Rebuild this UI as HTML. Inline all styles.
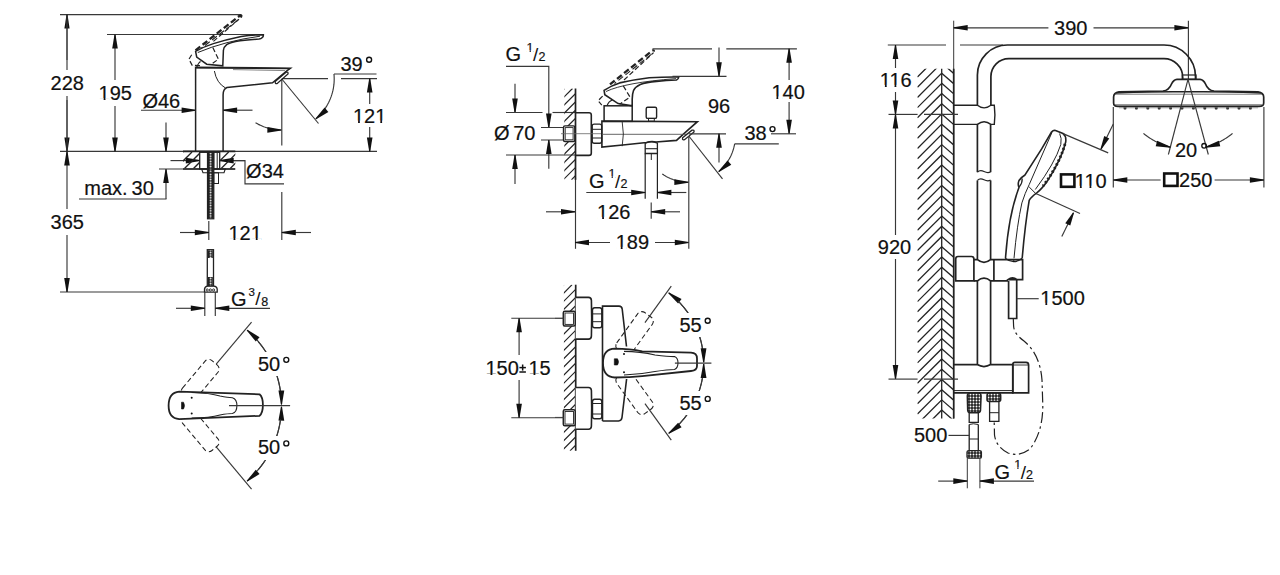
<!DOCTYPE html>
<html><head><meta charset="utf-8"><style>
html,body{margin:0;padding:0;background:#fff;width:1280px;height:575px;overflow:hidden}
svg{display:block}
text{font-family:"Liberation Sans",sans-serif;fill:#111;stroke:#111;stroke-width:0.2px}
</style></head><body>
<svg width="1280" height="575" viewBox="0 0 1280 575">
<rect width="1280" height="575" fill="#fff"/>
<line x1="60.00" y1="14.60" x2="241.00" y2="14.60" stroke="#383838" stroke-width="1.15" />
<line x1="107.00" y1="34.50" x2="262.00" y2="34.50" stroke="#383838" stroke-width="1.15" />
<line x1="60.00" y1="151.40" x2="377.00" y2="151.40" stroke="#383838" stroke-width="1.15" />
<line x1="60.00" y1="292.00" x2="204.00" y2="292.00" stroke="#383838" stroke-width="1.15" />
<line x1="67.00" y1="60.00" x2="67.00" y2="14.60" stroke="#383838" stroke-width="1.0" />
<polygon points="67.50,14.60 66.50,14.60 64.40,28.60 69.60,28.60" fill="#111"/>
<line x1="67.00" y1="100.00" x2="67.00" y2="151.40" stroke="#383838" stroke-width="1.0" />
<polygon points="66.50,151.40 67.50,151.40 69.60,137.40 64.40,137.40" fill="#111"/>
<line x1="67.00" y1="14.60" x2="67.00" y2="151.40" stroke="#383838" stroke-width="1.15" />
<rect x="50.00" y="70.00" width="35.00" height="26.00" fill="#fff"/>
<text x="67.30" y="90.00" font-size="20" text-anchor="middle" >228</text>
<line x1="115.00" y1="34.50" x2="115.00" y2="151.40" stroke="#383838" stroke-width="1.15" />
<polygon points="115.50,34.50 114.50,34.50 112.20,48.50 117.80,48.50" fill="#111"/>
<polygon points="114.50,151.40 115.50,151.40 117.80,137.40 112.20,137.40" fill="#111"/>
<rect x="98.00" y="80.00" width="35.00" height="26.00" fill="#fff"/>
<text x="115.30" y="100.00" font-size="20" text-anchor="middle" >195</text><rect x="99.01" y="98.10" width="4.64" height="3.10" fill="#fff"/><rect x="105.47" y="98.10" width="4.00" height="3.10" fill="#fff"/>
<line x1="67.00" y1="151.40" x2="67.00" y2="292.00" stroke="#383838" stroke-width="1.15" />
<polygon points="67.50,151.40 66.50,151.40 64.20,165.40 69.80,165.40" fill="#111"/>
<polygon points="66.50,292.00 67.50,292.00 69.80,278.00 64.20,278.00" fill="#111"/>
<rect x="50.00" y="209.00" width="35.00" height="26.00" fill="#fff"/>
<text x="67.30" y="228.80" font-size="20" text-anchor="middle" >365</text>
<line x1="141.00" y1="110.20" x2="195.60" y2="110.20" stroke="#383838" stroke-width="1.15" />
<polygon points="195.60,110.70 195.60,109.70 181.60,107.40 181.60,113.00" fill="#111"/>
<line x1="252.50" y1="110.20" x2="223.10" y2="110.20" stroke="#383838" stroke-width="1.15" />
<polygon points="223.10,109.70 223.10,110.70 237.10,113.00 237.10,107.40" fill="#111"/>
<text x="161.30" y="107.50" font-size="20" text-anchor="middle" >Ø46</text>
<line x1="166.00" y1="122.50" x2="166.00" y2="151.40" stroke="#383838" stroke-width="1.15" />
<polygon points="165.50,151.40 166.50,151.40 168.80,137.40 163.20,137.40" fill="#111"/>
<line x1="166.00" y1="199.00" x2="166.00" y2="169.00" stroke="#383838" stroke-width="1.15" />
<polygon points="166.50,169.00 165.50,169.00 163.20,183.00 168.80,183.00" fill="#111"/>
<line x1="159.00" y1="169.00" x2="235.00" y2="169.00" stroke="#383838" stroke-width="1.15" />
<line x1="79.00" y1="199.00" x2="166.50" y2="199.00" stroke="#383838" stroke-width="1.15" />
<text x="84.3" y="195.3" font-size="20">max.</text>
<text x="131.6" y="195.3" font-size="20">30</text>
<line x1="170.50" y1="160.60" x2="199.80" y2="160.60" stroke="#383838" stroke-width="1.15" />
<polygon points="199.80,161.10 199.80,160.10 185.80,157.80 185.80,163.40" fill="#111"/>
<line x1="245.00" y1="160.60" x2="219.70" y2="160.60" stroke="#383838" stroke-width="1.15" />
<polygon points="219.70,160.10 219.70,161.10 233.70,163.40 233.70,157.80" fill="#111"/>
<polyline points="234.00,160.60 245.00,160.60 245.00,183.80 284.00,183.80" fill="none" stroke="#383838" stroke-width="1.15" />
<text x="265.00" y="178.00" font-size="20" text-anchor="middle" >Ø34</text>
<line x1="208.80" y1="221.00" x2="208.80" y2="240.00" stroke="#383838" stroke-width="1.15" />
<line x1="180.00" y1="232.50" x2="208.80" y2="232.50" stroke="#383838" stroke-width="1.15" />
<polygon points="208.80,233.00 208.80,232.00 194.80,229.70 194.80,235.30" fill="#111"/>
<line x1="281.80" y1="79.00" x2="281.80" y2="145.60" stroke="#383838" stroke-width="1.15" />
<line x1="281.80" y1="192.00" x2="281.80" y2="240.00" stroke="#383838" stroke-width="1.15" />
<line x1="311.00" y1="232.50" x2="281.80" y2="232.50" stroke="#383838" stroke-width="1.15" />
<polygon points="281.80,232.00 281.80,233.00 295.80,235.30 295.80,229.70" fill="#111"/>
<text x="245.20" y="240.00" font-size="20" text-anchor="middle" >121</text><rect x="228.91" y="238.10" width="4.64" height="3.10" fill="#fff"/><rect x="235.37" y="238.10" width="4.00" height="3.10" fill="#fff"/><rect x="251.15" y="238.10" width="4.64" height="3.10" fill="#fff"/><rect x="257.61" y="238.10" width="4.00" height="3.10" fill="#fff"/>
<line x1="281.80" y1="78.60" x2="328.00" y2="78.60" stroke="#383838" stroke-width="1.15" />
<line x1="341.00" y1="78.60" x2="377.00" y2="78.60" stroke="#383838" stroke-width="1.15" />
<line x1="334.00" y1="74.00" x2="376.50" y2="74.00" stroke="#383838" stroke-width="1.15" />
<line x1="369.70" y1="78.60" x2="369.70" y2="151.40" stroke="#383838" stroke-width="1.15" />
<polygon points="370.20,78.60 369.20,78.60 366.90,92.60 372.50,92.60" fill="#111"/>
<polygon points="369.20,151.40 370.20,151.40 372.50,137.40 366.90,137.40" fill="#111"/>
<rect x="352.00" y="104.00" width="36.00" height="23.00" fill="#fff"/>
<text x="369.70" y="122.50" font-size="20" text-anchor="middle" >121</text><rect x="353.41" y="120.60" width="4.64" height="3.10" fill="#fff"/><rect x="359.87" y="120.60" width="4.00" height="3.10" fill="#fff"/><rect x="375.65" y="120.60" width="4.64" height="3.10" fill="#fff"/><rect x="382.11" y="120.60" width="4.00" height="3.10" fill="#fff"/>
<text x="351.50" y="70.60" font-size="20" text-anchor="middle" >39</text>
<circle cx="369.1" cy="59.7" r="2.5" fill="none" stroke="#111" stroke-width="1.35"/>
<line x1="281.80" y1="79.00" x2="318.50" y2="123.50" stroke="#383838" stroke-width="1.15" />
<polyline points="333.96,73.98 334.12,76.07 334.19,78.16 334.18,80.26 334.09,82.35 333.92,84.44 333.66,86.52 333.32,88.59 332.89,90.64 332.38,92.67 331.80,94.68 331.13,96.67 330.38,98.63 329.56,100.56 328.66,102.45 327.69,104.30 326.64,106.12 325.52,107.89 324.33,109.61 323.07,111.29 321.74,112.92 320.36,114.49 318.91,116.00 317.40,117.45 315.83,118.85" fill="none" stroke="#383838" stroke-width="1.15" />
<polygon points="315.51,118.47 316.16,119.23 328.36,111.96 324.59,107.55" fill="#111"/>
<polyline points="255.53,122.72 256.51,123.29 257.50,123.84 258.50,124.37 259.51,124.87 260.53,125.35 261.57,125.81 262.61,126.25 263.66,126.67 264.72,127.06 265.79,127.42 266.87,127.77 267.96,128.09 269.05,128.38 270.15,128.65 271.25,128.90 272.36,129.12 273.47,129.32 274.59,129.49 275.71,129.64 276.84,129.76 277.96,129.86 279.09,129.93 280.22,129.98 281.35,130.00" fill="none" stroke="#383838" stroke-width="1.15" />
<polygon points="281.35,130.50 281.36,129.50 267.38,126.98 267.33,132.78" fill="#111"/>
<path d="M195.6,151.4 L195.6,67.3 L290.5,68.2 L287.1,70.7 L272.5,82.8 L226.9,87.5 Q223.1,89 223.1,95 L223.1,151.4" fill="none" stroke="#222" stroke-width="1.5" />
<line x1="195.60" y1="67.80" x2="290.00" y2="68.70" stroke="#222" stroke-width="1.2" />
<path d="M233,69.6 L285,70.6" fill="none" stroke="#666" stroke-width="0.8" />
<path d="M214.4,71 Q216.5,83 225.5,88" fill="none" stroke="#222" stroke-width="1.0" />
<path d="M275.2,81.5 L286,72.2 Q288.5,71.5 288,74 L277.5,83.3 Q275,84.5 275.2,81.5 Z" fill="none" stroke="#222" stroke-width="1.3" />
<path d="M195.6,51.4 Q204,46.5 213.4,43.6 Q226,39.5 241.2,36.4 Q252,34.8 263.4,34.7 Q263.5,36.8 262.3,37.5 Q261,38.8 259,39.1 Q245,39.8 235.6,41.4 Q229,43 226.7,44.7 Q223.8,47 223.4,50.3 L222.8,65.8 L206.7,64.2 L196.7,57 Z" fill="none" stroke="#222" stroke-width="1.5" />
<path d="M197.8,52.5 Q225,41 260,36.2" fill="none" stroke="#222" stroke-width="1.0" />
<path d="M196.7,67.2 Q198.4,62.5 200.6,61.4" fill="none" stroke="#222" stroke-width="1.1" />
<path d="M195.5,50.3 L239.5,15.8 Q242,14.5 241.2,16.5 L240.6,17.5" fill="none" stroke="#222" stroke-width="2.3" stroke-dasharray="6,3"/>
<path d="M213.4,41.4 L239,19.1" fill="none" stroke="#222" stroke-width="1.2" stroke-dasharray="5,2.5"/>
<path d="M201,48.5 L240.6,18" fill="none" stroke="#222" stroke-width="1.1" stroke-dasharray="6,3" stroke-dashoffset="4"/>
<path d="M191.7,54.7 L188.9,59.2 L192.2,65.3 L202.2,65.8" fill="none" stroke="#222" stroke-width="1.2" stroke-dasharray="5,2.5"/>
<path d="M212.8,47.5 L218.4,59.2 L212.3,63.6" fill="none" stroke="#222" stroke-width="1.2" stroke-dasharray="5,2.5"/>
<defs><pattern id="thread" width="6.3" height="2.6" patternUnits="userSpaceOnUse" x="207.5" y="152.3"><rect width="6.3" height="2.6" fill="#222"/><circle cx="3.15" cy="1.3" r="0.9" fill="#fff"/></pattern></defs>
<line x1="183.00" y1="151.40" x2="235.30" y2="151.40" stroke="#222" stroke-width="1.6" />
<line x1="183.00" y1="169.00" x2="235.30" y2="169.00" stroke="#222" stroke-width="1.3" />
<clipPath id="c79"><rect x="183" y="152" width="16.69999999999999" height="16.5"/></clipPath>
<g clip-path="url(#c79)" stroke="#222" stroke-width="1.3"><line x1="157.50" y1="168.50" x2="174.00" y2="152.00"/><line x1="166.50" y1="168.50" x2="183.00" y2="152.00"/><line x1="175.50" y1="168.50" x2="192.00" y2="152.00"/><line x1="184.50" y1="168.50" x2="201.00" y2="152.00"/><line x1="193.50" y1="168.50" x2="210.00" y2="152.00"/><line x1="202.50" y1="168.50" x2="219.00" y2="152.00"/><line x1="211.50" y1="168.50" x2="228.00" y2="152.00"/></g>
<clipPath id="c81"><rect x="219.7" y="152" width="15.600000000000023" height="16.5"/></clipPath>
<g clip-path="url(#c81)" stroke="#222" stroke-width="1.3"><line x1="194.20" y1="168.50" x2="210.70" y2="152.00"/><line x1="203.20" y1="168.50" x2="219.70" y2="152.00"/><line x1="212.20" y1="168.50" x2="228.70" y2="152.00"/><line x1="221.20" y1="168.50" x2="237.70" y2="152.00"/><line x1="230.20" y1="168.50" x2="246.70" y2="152.00"/><line x1="239.20" y1="168.50" x2="255.70" y2="152.00"/><line x1="248.20" y1="168.50" x2="264.70" y2="152.00"/></g>
<rect x="199.70" y="152.30" width="20.00" height="16.70" rx="0" fill="none" stroke="#222" stroke-width="1.3" />
<rect x="207.50" y="152.30" width="6.30" height="66.50" rx="0" fill="url(#thread)" stroke="#222" stroke-width="1.2" />
<line x1="213.80" y1="152.30" x2="213.80" y2="169.00" stroke="#222" stroke-width="1.0" />
<line x1="217.20" y1="153.00" x2="217.20" y2="169.00" stroke="#222" stroke-width="1.0" />
<path d="M201.6,169 L225.3,169 L224,172.8 L203,172.8 Z" fill="none" stroke="#222" stroke-width="1.1" />
<rect x="213.80" y="172.80" width="4.70" height="10.70" rx="0" fill="none" stroke="#222" stroke-width="1.0" />
<rect x="207.30" y="249.70" width="6.20" height="36.80" rx="0" fill="none" stroke="#222" stroke-width="1.3" />
<rect x="208.00" y="250.30" width="4.80" height="7.70" rx="0" fill="url(#thread)" stroke="none" stroke-width="0" />
<rect x="208.00" y="277.00" width="4.80" height="9.00" rx="0" fill="url(#thread)" stroke="none" stroke-width="0" />
<path d="M204.5,292.2 L204.5,289 Q205,286.5 207.5,286.2 L214,286.2 Q216.8,286.5 217.2,289 L217.2,292.2 Z" fill="#fff" stroke="#222" stroke-width="1.3" />
<circle cx="207.2" cy="290" r="1.1" fill="none" stroke="#222" stroke-width="0.9"/>
<circle cx="210.4" cy="290" r="1.1" fill="none" stroke="#222" stroke-width="0.9"/>
<circle cx="213.6" cy="290" r="1.1" fill="none" stroke="#222" stroke-width="0.9"/>
<line x1="204.80" y1="292.00" x2="204.80" y2="316.00" stroke="#383838" stroke-width="1.15" />
<line x1="215.30" y1="292.00" x2="215.30" y2="316.00" stroke="#383838" stroke-width="1.15" />
<line x1="176.00" y1="308.30" x2="204.80" y2="308.30" stroke="#383838" stroke-width="1.15" />
<polygon points="204.80,308.80 204.80,307.80 190.80,305.50 190.80,311.10" fill="#111"/>
<line x1="270.00" y1="308.30" x2="215.30" y2="308.30" stroke="#383838" stroke-width="1.15" />
<polygon points="215.30,307.80 215.30,308.80 229.30,311.10 229.30,305.50" fill="#111"/>
<text x="231" y="305.5" font-size="20">G</text>
<text x="248.4" y="295.8" font-size="11.5">3</text>
<text x="255.2" y="305" font-size="19" style="stroke-width:0">/</text>
<text x="261.2" y="305.5" font-size="12.5">8</text>
<line x1="216.21" y1="364.23" x2="251.56" y2="322.10" stroke="#383838" stroke-width="1.15" />
<g transform="translate(181.5,405.6) rotate(-50)"><rect x="9" y="-10.5" width="45" height="17" rx="5" fill="none" stroke="#222" stroke-width="1.05" stroke-dasharray="5,3"/></g>
<line x1="216.21" y1="446.97" x2="251.56" y2="489.10" stroke="#383838" stroke-width="1.15" />
<g transform="translate(181.5,405.6) rotate(50)"><rect x="9" y="-6.5" width="45" height="17" rx="5" fill="none" stroke="#222" stroke-width="1.05" stroke-dasharray="5,3"/></g>
<path d="M179.2,391.6 Q168.6,392.5 168.6,405.6 Q168.6,418.5 179.2,419.2 L259.5,415.8 Q262.9,413 262.9,405 Q262.9,397 259.5,394.3 Z" fill="#fff" stroke="#222" stroke-width="1.8" />
<path d="M191.7,392.5 Q210,393 220,396 Q228,397.7 232.4,397.7 Q236.9,399 236.9,405.6 Q236.9,412.5 232.4,413.5 Q228,413.5 220,415 Q210,418 191.7,418" fill="none" stroke="#222" stroke-width="1.1" />
<path d="M181.5,402.2 L183.5,402.2 Q185.5,405.6 183.5,409 L181.5,409 Z" fill="#111" stroke="#111" stroke-width="0.6" />
<circle cx="191.7" cy="397.7" r="1" fill="#111"/><circle cx="191.7" cy="413.5" r="1" fill="#111"/>
<line x1="229.00" y1="405.60" x2="290.10" y2="405.60" stroke="#383838" stroke-width="1.15" />
<polyline points="280.53,391.68 280.07,388.74 279.52,385.81 278.89,382.89 278.17,380.00 277.36,377.13 276.47,374.28 275.49,371.47 274.43,368.68 273.29,365.93 272.07,363.21 270.77,360.53 269.38,357.88 267.92,355.29 266.38,352.73 264.77,350.22 263.08,347.77 261.32,345.36 259.49,343.01 257.59,340.71 255.62,338.47 253.59,336.29 251.49,334.17 249.33,332.12 247.11,330.13" fill="none" stroke="#383838" stroke-width="1.15" />
<polygon points="247.43,329.75 246.78,330.51 255.77,341.50 259.57,337.13" fill="#111"/>
<polyline points="258.10,341.32 259.91,343.54 261.66,345.81 263.34,348.14 264.95,350.50 266.50,352.92 267.97,355.37 269.37,357.87 270.71,360.41 271.96,362.98 273.15,365.59 274.26,368.23 275.29,370.91 276.24,373.61 277.12,376.34 277.92,379.09 278.64,381.86 279.28,384.65 279.84,387.46 280.32,390.29 280.72,393.12 281.04,395.97 281.27,398.83 281.42,401.69 281.49,404.55" fill="none" stroke="#383838" stroke-width="1.15" />
<polygon points="280.99,404.56 281.99,404.55 284.25,390.52 278.45,390.58" fill="#111"/>
<polyline points="258.10,469.88 259.91,467.66 261.66,465.39 263.34,463.06 264.95,460.70 266.50,458.28 267.97,455.83 269.37,453.33 270.71,450.79 271.96,448.22 273.15,445.61 274.26,442.97 275.29,440.29 276.24,437.59 277.12,434.86 277.92,432.11 278.64,429.34 279.28,426.55 279.84,423.74 280.32,420.91 280.72,418.08 281.04,415.23 281.27,412.37 281.42,409.51 281.49,406.65" fill="none" stroke="#383838" stroke-width="1.15" />
<polygon points="281.99,406.65 280.99,406.64 278.45,420.62 284.25,420.68" fill="#111"/>
<polyline points="280.53,419.52 280.07,422.46 279.52,425.39 278.89,428.31 278.17,431.20 277.36,434.07 276.47,436.92 275.49,439.73 274.43,442.52 273.29,445.27 272.07,447.99 270.77,450.67 269.38,453.32 267.92,455.91 266.38,458.47 264.77,460.98 263.08,463.43 261.32,465.84 259.49,468.19 257.59,470.49 255.62,472.73 253.59,474.91 251.49,477.03 249.33,479.08 247.11,481.07" fill="none" stroke="#383838" stroke-width="1.15" />
<polygon points="246.78,480.69 247.43,481.45 259.57,474.07 255.77,469.70" fill="#111"/>
<rect x="257.00" y="352.00" width="37.00" height="24.00" fill="#fff"/>
<rect x="257.00" y="436.00" width="37.00" height="24.00" fill="#fff"/>
<text x="269.00" y="370.70" font-size="20" text-anchor="middle" >50</text>
<circle cx="286.3" cy="359.8" r="2.5" fill="none" stroke="#111" stroke-width="1.35"/>
<text x="269.00" y="454.30" font-size="20" text-anchor="middle" >50</text>
<circle cx="286.3" cy="443.4" r="2.5" fill="none" stroke="#111" stroke-width="1.35"/>
<text x="505.5" y="61.3" font-size="20">G</text>
<text x="526.5" y="51.5" font-size="12.5">1</text><rect x="526.75" y="50.31" width="2.90" height="1.94" fill="#fff"/><rect x="530.79" y="50.31" width="2.50" height="1.94" fill="#fff"/>
<text x="533.0" y="61.3" font-size="19" style="stroke-width:0">/</text>
<text x="538.4" y="61.3" font-size="12.5">2</text>
<polyline points="506.00,66.30 548.80,66.30 548.80,127.50" fill="none" stroke="#383838" stroke-width="1.15" />
<polygon points="548.30,127.50 549.30,127.50 551.60,113.50 546.00,113.50" fill="#111"/>
<line x1="515.00" y1="83.80" x2="515.00" y2="112.50" stroke="#383838" stroke-width="1.15" />
<polygon points="514.50,112.50 515.50,112.50 517.80,98.50 512.20,98.50" fill="#111"/>
<line x1="506.00" y1="112.50" x2="542.50" y2="112.50" stroke="#383838" stroke-width="1.15" />
<line x1="552.50" y1="112.50" x2="575.00" y2="112.50" stroke="#383838" stroke-width="1.15" />
<line x1="541.00" y1="127.50" x2="575.00" y2="127.50" stroke="#383838" stroke-width="1.15" />
<line x1="541.00" y1="140.00" x2="575.00" y2="140.00" stroke="#383838" stroke-width="1.15" />
<line x1="548.80" y1="168.80" x2="548.80" y2="140.00" stroke="#383838" stroke-width="1.15" />
<polygon points="549.30,140.00 548.30,140.00 546.00,154.00 551.60,154.00" fill="#111"/>
<line x1="506.00" y1="155.00" x2="575.00" y2="155.00" stroke="#383838" stroke-width="1.15" />
<line x1="515.00" y1="184.00" x2="515.00" y2="155.00" stroke="#383838" stroke-width="1.15" />
<polygon points="515.50,155.00 514.50,155.00 512.20,169.00 517.80,169.00" fill="#111"/>
<text x="494" y="140" font-size="20">Ø</text>
<text x="524.30" y="140.00" font-size="20" text-anchor="middle" >70</text>
<line x1="575.50" y1="178.00" x2="575.50" y2="248.80" stroke="#383838" stroke-width="1.15" />
<clipPath id="c149"><rect x="564.3" y="88.5" width="11.200000000000045" height="91.30000000000001"/></clipPath>
<g clip-path="url(#c149)" stroke="#222" stroke-width="1.2"><line x1="464.80" y1="179.80" x2="556.10" y2="88.50"/><line x1="473.00" y1="179.80" x2="564.30" y2="88.50"/><line x1="481.20" y1="179.80" x2="572.50" y2="88.50"/><line x1="489.40" y1="179.80" x2="580.70" y2="88.50"/><line x1="497.60" y1="179.80" x2="588.90" y2="88.50"/><line x1="505.80" y1="179.80" x2="597.10" y2="88.50"/><line x1="514.00" y1="179.80" x2="605.30" y2="88.50"/><line x1="522.20" y1="179.80" x2="613.50" y2="88.50"/><line x1="530.40" y1="179.80" x2="621.70" y2="88.50"/><line x1="538.60" y1="179.80" x2="629.90" y2="88.50"/><line x1="546.80" y1="179.80" x2="638.10" y2="88.50"/><line x1="555.00" y1="179.80" x2="646.30" y2="88.50"/><line x1="563.20" y1="179.80" x2="654.50" y2="88.50"/><line x1="571.40" y1="179.80" x2="662.70" y2="88.50"/><line x1="579.60" y1="179.80" x2="670.90" y2="88.50"/><line x1="587.80" y1="179.80" x2="679.10" y2="88.50"/><line x1="596.00" y1="179.80" x2="687.30" y2="88.50"/><line x1="604.20" y1="179.80" x2="695.50" y2="88.50"/><line x1="612.40" y1="179.80" x2="703.70" y2="88.50"/><line x1="620.60" y1="179.80" x2="711.90" y2="88.50"/><line x1="628.80" y1="179.80" x2="720.10" y2="88.50"/><line x1="637.00" y1="179.80" x2="728.30" y2="88.50"/><line x1="645.20" y1="179.80" x2="736.50" y2="88.50"/><line x1="653.40" y1="179.80" x2="744.70" y2="88.50"/><line x1="661.60" y1="179.80" x2="752.90" y2="88.50"/></g>
<line x1="575.50" y1="88.50" x2="575.50" y2="179.80" stroke="#222" stroke-width="1.7" />
<path d="M575.5,112.8 L589,112.8 Q591.3,112.8 591.3,115 L591.3,153.2 Q591.3,155.4 589,155.4 L575.5,155.4" fill="none" stroke="#222" stroke-width="1.6" />
<rect x="563.50" y="125.90" width="11.30" height="15.60" rx="1.5" fill="#fff" stroke="#222" stroke-width="1.4" />
<rect x="565.20" y="127.60" width="7.90" height="12.20" rx="0" fill="none" stroke="#222" stroke-width="0.9" />
<rect x="592.20" y="124.10" width="9.50" height="19.20" rx="2" fill="none" stroke="#222" stroke-width="1.4" />
<line x1="592.20" y1="129.30" x2="601.70" y2="129.30" stroke="#222" stroke-width="1.0" />
<line x1="592.20" y1="138.00" x2="601.70" y2="138.00" stroke="#222" stroke-width="1.0" />
<line x1="561.00" y1="133.70" x2="601.00" y2="133.70" stroke="#666" stroke-width="0.8" />
<path d="M601.9,147 L601.9,121.1 L697.4,121.7 L687,130.9 L676.5,140.4 L656,142 Q651.3,140.8 646.5,142.5 L625.2,144.8 Z" fill="none" stroke="#222" stroke-width="1.6" />
<line x1="602.00" y1="134.30" x2="688.80" y2="134.30" stroke="#555" stroke-width="0.9" />
<path d="M682.6,137.8 L692,130.2 Q694.5,129.5 694,132 L684.5,139.7 Q682,140.5 682.6,137.8 Z" fill="#fff" stroke="#222" stroke-width="1.3" />
<path d="M622.2,121.8 Q624.5,134 622.2,146.2" fill="none" stroke="#222" stroke-width="0.9" />
<rect x="646.20" y="107.30" width="10.40" height="11.10" rx="1.5" fill="none" stroke="#222" stroke-width="1.4" />
<rect x="648.50" y="118.40" width="5.80" height="2.80" rx="0" fill="none" stroke="#222" stroke-width="1.0" />
<rect x="604.10" y="105.80" width="28.10" height="15.50" rx="0" fill="none" stroke="#222" stroke-width="1.5" />
<path d="M604.1,90.3 Q611,85.5 619.6,82.9 Q634,79.5 649.2,77.7 Q665,76.8 678.8,77 Q678.5,79.2 676.5,80 Q666,80.5 656.6,81.4 Q646,82.4 640.3,84.4 Q635.5,86.5 633.6,90.3 Q632.2,94 632.2,99.2 L632.2,105.8 L618.1,103.6 L604.8,94.7 Z" fill="none" stroke="#222" stroke-width="1.6" />
<path d="M606,91.5 Q625,82.5 676,78.6" fill="none" stroke="#222" stroke-width="0.9" />
<path d="M607,105.8 Q608.5,101.4 612.2,99.9" fill="none" stroke="#222" stroke-width="1.1" />
<path d="M610,84.4 L652,50.8 Q654.5,49.5 653.6,51.5" fill="none" stroke="#222" stroke-width="2.3" stroke-dasharray='6,3'/>
<path d="M624,80 L653.6,52.6" fill="none" stroke="#222" stroke-width="1.2" stroke-dasharray='5,2.5'/>
<path d="M614.5,83.5 L653,53" fill="none" stroke="#222" stroke-width="1.1" stroke-dasharray='6,3' stroke-dashoffset='4'/>
<path d="M623.3,85.9 L630,97 L619.6,104.3" fill="none" stroke="#222" stroke-width="1.2" stroke-dasharray='5,2.5'/>
<path d="M602.6,96.2 L598.1,100.7 L601.8,105.1" fill="none" stroke="#222" stroke-width="1.2" stroke-dasharray='5,2.5'/>
<path d="M645.2,153.5 L645.2,143.2 Q651.3,140.5 657.4,143.2 L657.4,153.5 Z" fill="none" stroke="#222" stroke-width="1.3" />
<line x1="645.20" y1="148.70" x2="657.40" y2="148.70" stroke="#222" stroke-width="1.1" />
<line x1="645.20" y1="153.50" x2="645.20" y2="198.80" stroke="#222" stroke-width="1.2" />
<line x1="657.40" y1="153.50" x2="657.40" y2="198.80" stroke="#222" stroke-width="1.2" />
<line x1="651.30" y1="153.50" x2="651.30" y2="160.00" stroke="#222" stroke-width="1.0" />
<line x1="651.20" y1="202.50" x2="651.20" y2="218.80" stroke="#383838" stroke-width="1.15" />
<line x1="586.30" y1="192.50" x2="645.20" y2="192.50" stroke="#383838" stroke-width="1.15" />
<polygon points="645.20,193.00 645.20,192.00 631.20,189.70 631.20,195.30" fill="#111"/>
<line x1="686.30" y1="192.50" x2="657.40" y2="192.50" stroke="#383838" stroke-width="1.15" />
<polygon points="657.40,192.00 657.40,193.00 671.40,195.30 671.40,189.70" fill="#111"/>
<text x="589" y="187.5" font-size="20">G</text>
<text x="608.5" y="177.5" font-size="12.5">1</text><rect x="608.75" y="176.31" width="2.90" height="1.94" fill="#fff"/><rect x="612.79" y="176.31" width="2.50" height="1.94" fill="#fff"/>
<text x="615.0" y="187.5" font-size="19" style="stroke-width:0">/</text>
<text x="620.4" y="187.5" font-size="12.5">2</text>
<line x1="546.00" y1="211.80" x2="575.00" y2="211.80" stroke="#383838" stroke-width="1.15" />
<polygon points="575.00,212.30 575.00,211.30 561.00,209.00 561.00,214.60" fill="#111"/>
<line x1="680.00" y1="211.80" x2="651.20" y2="211.80" stroke="#383838" stroke-width="1.15" />
<polygon points="651.20,211.30 651.20,212.30 665.20,214.60 665.20,209.00" fill="#111"/>
<text x="613.80" y="218.80" font-size="20" text-anchor="middle" >126</text><rect x="597.51" y="216.90" width="4.64" height="3.10" fill="#fff"/><rect x="603.97" y="216.90" width="4.00" height="3.10" fill="#fff"/>
<line x1="575.00" y1="242.50" x2="610.00" y2="242.50" stroke="#383838" stroke-width="1.15" />
<polygon points="575.00,242.00 575.00,243.00 589.00,245.30 589.00,239.70" fill="#111"/>
<line x1="655.00" y1="242.50" x2="688.80" y2="242.50" stroke="#383838" stroke-width="1.15" />
<polygon points="688.80,243.00 688.80,242.00 674.80,239.70 674.80,245.30" fill="#111"/>
<text x="632.40" y="248.80" font-size="20" text-anchor="middle" >189</text><rect x="616.11" y="246.90" width="4.64" height="3.10" fill="#fff"/><rect x="622.57" y="246.90" width="4.00" height="3.10" fill="#fff"/>
<line x1="688.80" y1="136.00" x2="688.80" y2="248.80" stroke="#383838" stroke-width="1.15" />
<line x1="652.50" y1="48.80" x2="712.00" y2="48.80" stroke="#383838" stroke-width="1.15" />
<line x1="726.30" y1="48.80" x2="796.90" y2="48.80" stroke="#383838" stroke-width="1.15" />
<line x1="719.00" y1="47.50" x2="719.00" y2="76.30" stroke="#383838" stroke-width="1.15" />
<polygon points="718.50,76.30 719.50,76.30 721.80,62.30 716.20,62.30" fill="#111"/>
<line x1="672.50" y1="76.30" x2="726.50" y2="76.30" stroke="#383838" stroke-width="1.15" />
<line x1="789.10" y1="48.80" x2="789.10" y2="133.80" stroke="#383838" stroke-width="1.15" />
<polygon points="789.60,48.80 788.60,48.80 786.30,62.80 791.90,62.80" fill="#111"/>
<polygon points="788.60,133.80 789.60,133.80 791.90,119.80 786.30,119.80" fill="#111"/>
<rect x="772.00" y="80.00" width="34.00" height="22.00" fill="#fff"/>
<text x="788.10" y="98.50" font-size="20" text-anchor="middle" >140</text><rect x="771.81" y="96.60" width="4.64" height="3.10" fill="#fff"/><rect x="778.27" y="96.60" width="4.00" height="3.10" fill="#fff"/>
<text x="719.10" y="112.50" font-size="20" text-anchor="middle" >96</text>
<line x1="688.80" y1="133.80" x2="726.00" y2="133.80" stroke="#383838" stroke-width="1.15" />
<line x1="771.00" y1="133.80" x2="796.00" y2="133.80" stroke="#383838" stroke-width="1.15" />
<line x1="719.00" y1="162.50" x2="719.00" y2="133.80" stroke="#383838" stroke-width="1.15" />
<polygon points="719.50,133.80 718.50,133.80 716.20,147.80 721.80,147.80" fill="#111"/>
<text x="755.50" y="140.00" font-size="20" text-anchor="middle" >38</text>
<circle cx="772.5" cy="129.1" r="2.5" fill="none" stroke="#111" stroke-width="1.35"/>
<line x1="735.00" y1="143.80" x2="778.80" y2="143.80" stroke="#383838" stroke-width="1.15" />
<line x1="688.80" y1="136.00" x2="722.50" y2="178.80" stroke="#383838" stroke-width="1.15" />
<polyline points="734.66,143.67 734.42,145.02 734.13,146.36 733.81,147.69 733.44,149.01 733.04,150.32 732.60,151.62 732.12,152.90 731.60,154.17 731.05,155.42 730.46,156.66 729.83,157.88 729.17,159.07 728.47,160.25 727.74,161.41 726.98,162.55 726.18,163.66 725.35,164.75 724.49,165.81 723.59,166.85 722.67,167.86 721.72,168.84 720.73,169.80 719.73,170.73 718.69,171.62" fill="none" stroke="#383838" stroke-width="1.15" />
<polygon points="718.37,171.24 719.01,172.00 731.28,164.84 727.55,160.40" fill="#111"/>
<polyline points="662.24,173.93 663.20,174.58 664.17,175.21 665.16,175.81 666.17,176.39 667.18,176.94 668.21,177.47 669.26,177.97 670.31,178.45 671.38,178.90 672.46,179.32 673.55,179.72 674.65,180.08 675.75,180.42 676.87,180.74 677.99,181.02 679.12,181.28 680.26,181.50 681.40,181.70 682.54,181.88 683.69,182.02 684.85,182.13 686.00,182.22 687.16,182.27 688.32,182.30" fill="none" stroke="#383838" stroke-width="1.15" />
<polygon points="688.31,182.80 688.32,181.80 674.35,179.25 674.29,185.05" fill="#111"/>
<clipPath id="c222"><rect x="563.9" y="284.7" width="11.800000000000068" height="166.10000000000002"/></clipPath>
<g clip-path="url(#c222)" stroke="#222" stroke-width="1.2"><line x1="389.60" y1="450.80" x2="555.70" y2="284.70"/><line x1="397.80" y1="450.80" x2="563.90" y2="284.70"/><line x1="406.00" y1="450.80" x2="572.10" y2="284.70"/><line x1="414.20" y1="450.80" x2="580.30" y2="284.70"/><line x1="422.40" y1="450.80" x2="588.50" y2="284.70"/><line x1="430.60" y1="450.80" x2="596.70" y2="284.70"/><line x1="438.80" y1="450.80" x2="604.90" y2="284.70"/><line x1="447.00" y1="450.80" x2="613.10" y2="284.70"/><line x1="455.20" y1="450.80" x2="621.30" y2="284.70"/><line x1="463.40" y1="450.80" x2="629.50" y2="284.70"/><line x1="471.60" y1="450.80" x2="637.70" y2="284.70"/><line x1="479.80" y1="450.80" x2="645.90" y2="284.70"/><line x1="488.00" y1="450.80" x2="654.10" y2="284.70"/><line x1="496.20" y1="450.80" x2="662.30" y2="284.70"/><line x1="504.40" y1="450.80" x2="670.50" y2="284.70"/><line x1="512.60" y1="450.80" x2="678.70" y2="284.70"/><line x1="520.80" y1="450.80" x2="686.90" y2="284.70"/><line x1="529.00" y1="450.80" x2="695.10" y2="284.70"/><line x1="537.20" y1="450.80" x2="703.30" y2="284.70"/><line x1="545.40" y1="450.80" x2="711.50" y2="284.70"/><line x1="553.60" y1="450.80" x2="719.70" y2="284.70"/><line x1="561.80" y1="450.80" x2="727.90" y2="284.70"/><line x1="570.00" y1="450.80" x2="736.10" y2="284.70"/><line x1="578.20" y1="450.80" x2="744.30" y2="284.70"/><line x1="586.40" y1="450.80" x2="752.50" y2="284.70"/><line x1="594.60" y1="450.80" x2="760.70" y2="284.70"/><line x1="602.80" y1="450.80" x2="768.90" y2="284.70"/><line x1="611.00" y1="450.80" x2="777.10" y2="284.70"/><line x1="619.20" y1="450.80" x2="785.30" y2="284.70"/><line x1="627.40" y1="450.80" x2="793.50" y2="284.70"/><line x1="635.60" y1="450.80" x2="801.70" y2="284.70"/><line x1="643.80" y1="450.80" x2="809.90" y2="284.70"/><line x1="652.00" y1="450.80" x2="818.10" y2="284.70"/><line x1="660.20" y1="450.80" x2="826.30" y2="284.70"/><line x1="668.40" y1="450.80" x2="834.50" y2="284.70"/><line x1="676.60" y1="450.80" x2="842.70" y2="284.70"/><line x1="684.80" y1="450.80" x2="850.90" y2="284.70"/><line x1="693.00" y1="450.80" x2="859.10" y2="284.70"/><line x1="701.20" y1="450.80" x2="867.30" y2="284.70"/><line x1="709.40" y1="450.80" x2="875.50" y2="284.70"/><line x1="717.60" y1="450.80" x2="883.70" y2="284.70"/><line x1="725.80" y1="450.80" x2="891.90" y2="284.70"/><line x1="734.00" y1="450.80" x2="900.10" y2="284.70"/></g>
<line x1="575.70" y1="284.70" x2="575.70" y2="450.80" stroke="#222" stroke-width="1.7" />
<path d="M575.7,297.4 L588.5,297.4 Q591.2,297.4 591.4,300.4 Q592,318.25 591.4,336.1 Q591.2,339.1 588.5,339.1 L575.7,339.1" fill="#fff" stroke="#222" stroke-width="1.6" />
<path d="M575.7,387.5 L588.5,387.5 Q591.2,387.5 591.4,390.5 Q592,408.35 591.4,426.2 Q591.2,429.2 588.5,429.2 L575.7,429.2" fill="#fff" stroke="#222" stroke-width="1.6" />
<line x1="555.00" y1="318.30" x2="563.30" y2="318.30" stroke="#555" stroke-width="0.9" />
<rect x="563.30" y="311.30" width="11.90" height="14.80" rx="1.5" fill="#fff" stroke="#222" stroke-width="1.5" />
<rect x="565.00" y="313.00" width="8.50" height="11.40" rx="0" fill="none" stroke="#222" stroke-width="0.9" />
<line x1="555.00" y1="417.40" x2="563.30" y2="417.40" stroke="#555" stroke-width="0.9" />
<rect x="563.30" y="409.80" width="11.90" height="16.00" rx="1.5" fill="#fff" stroke="#222" stroke-width="1.5" />
<rect x="565.00" y="411.50" width="8.50" height="12.60" rx="0" fill="none" stroke="#222" stroke-width="0.9" />
<rect x="592.50" y="307.80" width="9.30" height="20.00" rx="2.2" fill="none" stroke="#222" stroke-width="1.4" />
<line x1="592.50" y1="313.90" x2="601.80" y2="313.90" stroke="#222" stroke-width="1.0" />
<line x1="592.50" y1="321.70" x2="601.80" y2="321.70" stroke="#222" stroke-width="1.0" />
<rect x="592.50" y="399.30" width="9.30" height="19.50" rx="2.2" fill="none" stroke="#222" stroke-width="1.4" />
<line x1="592.50" y1="403.50" x2="601.80" y2="403.50" stroke="#222" stroke-width="1.0" />
<line x1="592.50" y1="414.00" x2="601.80" y2="414.00" stroke="#222" stroke-width="1.0" />
<path d="M602.5,421 L602.5,306.1 L619,306.1 Q621.8,306.1 622.2,309 L626.5,346.5" fill="none" stroke="#222" stroke-width="1.6" />
<path d="M626.6,379 L622,417.5 Q621.6,420.6 618.5,421 L602.5,421" fill="none" stroke="#222" stroke-width="1.6" />
<line x1="644.95" y1="322.55" x2="671.27" y2="286.05" stroke="#383838" stroke-width="1.15" />
<g transform="translate(615.7,363.1) rotate(-54.2)"><rect x="12" y="-11" width="46" height="18" rx="5" fill="none" stroke="#222" stroke-width="1.05" stroke-dasharray="5,3"/></g>
<line x1="644.95" y1="403.65" x2="671.27" y2="440.15" stroke="#383838" stroke-width="1.15" />
<g transform="translate(615.7,363.1) rotate(54.2)"><rect x="12" y="-7" width="46" height="18" rx="5" fill="none" stroke="#222" stroke-width="1.05" stroke-dasharray="5,3"/></g>
<path d="M614.8,348.7 Q630,348.7 642.2,351.4 L691,352.7 Q697,353 697,358.5 L697,366 Q697,370.5 691,371 L642.2,376.2 Q630,377.5 614.8,377.5 Q603,377 603,363 Q603,349 614.8,348.7 Z" fill="#fff" stroke="#222" stroke-width="1.8" />
<path d="M624,351.4 Q640,351.5 655,355 Q668,356.6 674.5,356.6 Q678,358 678,363 Q678,368 674.5,369.5 Q668,369.5 655,371.5 Q640,374.5 624,375" fill="none" stroke="#222" stroke-width="1.1" />
<path d="M614.3,358.8 L617.5,358.8 Q619.5,362 617.5,365 L614.3,365 Z" fill="#111" stroke="#111" stroke-width="0.6" />
<circle cx="624" cy="354" r="1" fill="#111"/><circle cx="624" cy="372.2" r="1" fill="#111"/>
<line x1="674.90" y1="363.10" x2="711.40" y2="363.10" stroke="#383838" stroke-width="1.15" />
<polyline points="702.36,347.82 701.84,345.12 701.24,342.43 700.55,339.77 699.78,337.13 698.93,334.51 697.99,331.92 696.98,329.36 695.88,326.84 694.71,324.35 693.46,321.90 692.13,319.49 690.73,317.12 689.26,314.80 687.71,312.52 686.10,310.29 684.41,308.12 682.66,306.00 680.84,303.93 678.96,301.92 677.01,299.98 675.01,298.09 672.95,296.27 670.83,294.51 668.66,292.82" fill="none" stroke="#383838" stroke-width="1.15" />
<polygon points="668.96,292.42 668.36,293.22 678.10,303.56 681.59,298.93" fill="#111"/>
<polyline points="677.93,300.87 679.90,302.92 681.81,305.02 683.65,307.18 685.42,309.41 687.12,311.69 688.74,314.02 690.29,316.40 691.76,318.83 693.15,321.31 694.45,323.83 695.68,326.40 696.82,329.00 697.88,331.64 698.86,334.30 699.74,337.00 700.54,339.73 701.25,342.48 701.87,345.25 702.40,348.05 702.84,350.85 703.19,353.67 703.45,356.50 703.62,359.34 703.70,362.18" fill="none" stroke="#383838" stroke-width="1.15" />
<polygon points="703.20,362.18 704.20,362.17 706.45,348.15 700.65,348.21" fill="#111"/>
<polyline points="677.93,425.33 679.90,423.28 681.81,421.18 683.65,419.02 685.42,416.79 687.12,414.51 688.74,412.18 690.29,409.80 691.76,407.37 693.15,404.89 694.45,402.37 695.68,399.80 696.82,397.20 697.88,394.56 698.86,391.90 699.74,389.20 700.54,386.47 701.25,383.72 701.87,380.95 702.40,378.15 702.84,375.35 703.19,372.53 703.45,369.70 703.62,366.86 703.70,364.02" fill="none" stroke="#383838" stroke-width="1.15" />
<polygon points="704.20,364.03 703.20,364.02 700.65,377.99 706.45,378.05" fill="#111"/>
<polyline points="702.36,378.38 701.84,381.08 701.24,383.77 700.55,386.43 699.78,389.07 698.93,391.69 697.99,394.28 696.98,396.84 695.88,399.36 694.71,401.85 693.46,404.30 692.13,406.71 690.73,409.08 689.26,411.40 687.71,413.68 686.10,415.91 684.41,418.08 682.66,420.20 680.84,422.27 678.96,424.28 677.01,426.22 675.01,428.11 672.95,429.93 670.83,431.69 668.66,433.38" fill="none" stroke="#383838" stroke-width="1.15" />
<polygon points="668.36,432.98 668.96,433.78 681.59,427.27 678.10,422.64" fill="#111"/>
<rect x="678.00" y="313.00" width="37.00" height="24.00" fill="#fff"/>
<rect x="678.00" y="391.00" width="37.00" height="24.00" fill="#fff"/>
<text x="690.50" y="331.60" font-size="20" text-anchor="middle" >55</text>
<circle cx="707.7" cy="320.7" r="2.5" fill="none" stroke="#111" stroke-width="1.35"/>
<text x="690.50" y="409.80" font-size="20" text-anchor="middle" >55</text>
<circle cx="707.7" cy="398.9" r="2.5" fill="none" stroke="#111" stroke-width="1.35"/>
<line x1="511.30" y1="318.20" x2="563.90" y2="318.20" stroke="#383838" stroke-width="1.15" />
<line x1="511.30" y1="417.70" x2="563.90" y2="417.70" stroke="#383838" stroke-width="1.15" />
<line x1="519.10" y1="318.20" x2="519.10" y2="417.70" stroke="#383838" stroke-width="1.15" />
<polygon points="519.60,318.20 518.60,318.20 516.30,332.20 521.90,332.20" fill="#111"/>
<polygon points="518.60,417.70 519.60,417.70 521.90,403.70 516.30,403.70" fill="#111"/>
<rect x="485.00" y="355.00" width="66.00" height="25.00" fill="#fff"/>
<text x="485.5" y="375.4" font-size="20">150</text><rect x="485.90" y="373.50" width="4.64" height="3.10" fill="#fff"/><rect x="492.36" y="373.50" width="4.00" height="3.10" fill="#fff"/>
<line x1="519.40" y1="367.60" x2="525.90" y2="367.60" stroke="#111" stroke-width="1.5" />
<line x1="522.65" y1="364.50" x2="522.65" y2="370.60" stroke="#111" stroke-width="1.5" />
<line x1="519.40" y1="372.00" x2="525.90" y2="372.00" stroke="#111" stroke-width="1.5" />
<text x="528.5" y="375.4" font-size="20">15</text><rect x="528.90" y="373.50" width="4.64" height="3.10" fill="#fff"/><rect x="535.36" y="373.50" width="4.00" height="3.10" fill="#fff"/>
<clipPath id="wallclipL"><rect x="917.4" y="68.7" width="24.300000000000068" height="349.90000000000003"/></clipPath>
<g clip-path="url(#wallclipL)" stroke="#222" stroke-width="1.3"><line x1="917.40" y1="66.82" x2="941.70" y2="42.52"/><line x1="917.40" y1="77.03" x2="941.70" y2="52.73"/><line x1="917.40" y1="87.24" x2="941.70" y2="62.94"/><line x1="917.40" y1="97.45" x2="941.70" y2="73.15"/><line x1="917.40" y1="107.66" x2="941.70" y2="83.36"/><line x1="917.40" y1="117.87" x2="941.70" y2="93.57"/><line x1="917.40" y1="128.08" x2="941.70" y2="103.78"/><line x1="917.40" y1="138.29" x2="941.70" y2="113.99"/><line x1="917.40" y1="148.50" x2="941.70" y2="124.20"/><line x1="917.40" y1="158.71" x2="941.70" y2="134.41"/><line x1="917.40" y1="168.92" x2="941.70" y2="144.62"/><line x1="917.40" y1="179.13" x2="941.70" y2="154.83"/><line x1="917.40" y1="189.34" x2="941.70" y2="165.04"/><line x1="917.40" y1="199.55" x2="941.70" y2="175.25"/><line x1="917.40" y1="209.76" x2="941.70" y2="185.46"/><line x1="917.40" y1="219.97" x2="941.70" y2="195.67"/><line x1="917.40" y1="230.18" x2="941.70" y2="205.88"/><line x1="917.40" y1="240.39" x2="941.70" y2="216.09"/><line x1="917.40" y1="250.60" x2="941.70" y2="226.30"/><line x1="917.40" y1="260.81" x2="941.70" y2="236.51"/><line x1="917.40" y1="271.02" x2="941.70" y2="246.72"/><line x1="917.40" y1="281.23" x2="941.70" y2="256.93"/><line x1="917.40" y1="291.44" x2="941.70" y2="267.14"/><line x1="917.40" y1="301.65" x2="941.70" y2="277.35"/><line x1="917.40" y1="311.86" x2="941.70" y2="287.56"/><line x1="917.40" y1="322.07" x2="941.70" y2="297.77"/><line x1="917.40" y1="332.28" x2="941.70" y2="307.98"/><line x1="917.40" y1="342.49" x2="941.70" y2="318.19"/><line x1="917.40" y1="352.70" x2="941.70" y2="328.40"/><line x1="917.40" y1="362.91" x2="941.70" y2="338.61"/><line x1="917.40" y1="373.12" x2="941.70" y2="348.82"/><line x1="917.40" y1="383.33" x2="941.70" y2="359.03"/><line x1="917.40" y1="393.54" x2="941.70" y2="369.24"/><line x1="917.40" y1="403.75" x2="941.70" y2="379.45"/><line x1="917.40" y1="413.96" x2="941.70" y2="389.66"/><line x1="917.40" y1="424.17" x2="941.70" y2="399.87"/><line x1="917.40" y1="434.38" x2="941.70" y2="410.08"/><line x1="917.40" y1="444.59" x2="941.70" y2="420.29"/><line x1="917.40" y1="454.80" x2="941.70" y2="430.50"/><line x1="917.40" y1="465.01" x2="941.70" y2="440.71"/></g>
<clipPath id="wallclipR"><rect x="941.7" y="68.7" width="12.0" height="349.90000000000003"/></clipPath>
<g clip-path="url(#wallclipR)" stroke="#222" stroke-width="1.3"><line x1="941.70" y1="52.73" x2="953.70" y2="63.23"/><line x1="941.70" y1="62.94" x2="953.70" y2="73.44"/><line x1="941.70" y1="73.15" x2="953.70" y2="83.65"/><line x1="941.70" y1="83.36" x2="953.70" y2="93.86"/><line x1="941.70" y1="93.57" x2="953.70" y2="104.07"/><line x1="941.70" y1="103.78" x2="953.70" y2="114.28"/><line x1="941.70" y1="113.99" x2="953.70" y2="124.49"/><line x1="941.70" y1="124.20" x2="953.70" y2="134.70"/><line x1="941.70" y1="134.41" x2="953.70" y2="144.91"/><line x1="941.70" y1="144.62" x2="953.70" y2="155.12"/><line x1="941.70" y1="154.83" x2="953.70" y2="165.33"/><line x1="941.70" y1="165.04" x2="953.70" y2="175.54"/><line x1="941.70" y1="175.25" x2="953.70" y2="185.75"/><line x1="941.70" y1="185.46" x2="953.70" y2="195.96"/><line x1="941.70" y1="195.67" x2="953.70" y2="206.17"/><line x1="941.70" y1="205.88" x2="953.70" y2="216.38"/><line x1="941.70" y1="216.09" x2="953.70" y2="226.59"/><line x1="941.70" y1="226.30" x2="953.70" y2="236.80"/><line x1="941.70" y1="236.51" x2="953.70" y2="247.01"/><line x1="941.70" y1="246.72" x2="953.70" y2="257.22"/><line x1="941.70" y1="256.93" x2="953.70" y2="267.43"/><line x1="941.70" y1="267.14" x2="953.70" y2="277.64"/><line x1="941.70" y1="277.35" x2="953.70" y2="287.85"/><line x1="941.70" y1="287.56" x2="953.70" y2="298.06"/><line x1="941.70" y1="297.77" x2="953.70" y2="308.27"/><line x1="941.70" y1="307.98" x2="953.70" y2="318.48"/><line x1="941.70" y1="318.19" x2="953.70" y2="328.69"/><line x1="941.70" y1="328.40" x2="953.70" y2="338.90"/><line x1="941.70" y1="338.61" x2="953.70" y2="349.11"/><line x1="941.70" y1="348.82" x2="953.70" y2="359.32"/><line x1="941.70" y1="359.03" x2="953.70" y2="369.53"/><line x1="941.70" y1="369.24" x2="953.70" y2="379.74"/><line x1="941.70" y1="379.45" x2="953.70" y2="389.95"/><line x1="941.70" y1="389.66" x2="953.70" y2="400.16"/><line x1="941.70" y1="399.87" x2="953.70" y2="410.37"/><line x1="941.70" y1="410.08" x2="953.70" y2="420.58"/><line x1="941.70" y1="420.29" x2="953.70" y2="430.79"/><line x1="941.70" y1="430.50" x2="953.70" y2="441.00"/><line x1="941.70" y1="440.71" x2="953.70" y2="451.21"/></g>
<line x1="941.70" y1="68.70" x2="941.70" y2="418.60" stroke="#222" stroke-width="1.3" />
<line x1="953.70" y1="20.70" x2="953.70" y2="418.60" stroke="#383838" stroke-width="1.0" />
<line x1="953.70" y1="68.70" x2="953.70" y2="418.60" stroke="#222" stroke-width="1.7" />
<line x1="953.70" y1="27.80" x2="1048.40" y2="27.80" stroke="#383838" stroke-width="1.15" />
<polygon points="953.70,27.30 953.70,28.30 967.70,30.60 967.70,25.00" fill="#111"/>
<line x1="1093.50" y1="27.80" x2="1188.40" y2="27.80" stroke="#383838" stroke-width="1.15" />
<polygon points="1188.40,28.30 1188.40,27.30 1174.40,25.00 1174.40,30.60" fill="#111"/>
<text x="1070.80" y="35.30" font-size="20" text-anchor="middle" >390</text>
<line x1="1188.40" y1="20.70" x2="1188.40" y2="79.50" stroke="#383838" stroke-width="1.15" />
<line x1="887.80" y1="45.00" x2="946.00" y2="45.00" stroke="#383838" stroke-width="1.15" />
<line x1="960.00" y1="45.00" x2="1003.00" y2="45.00" stroke="#383838" stroke-width="1.15" />
<line x1="895.50" y1="45.00" x2="895.50" y2="114.40" stroke="#383838" stroke-width="1.15" />
<polygon points="896.00,45.00 895.00,45.00 892.70,59.00 898.30,59.00" fill="#111"/>
<polygon points="895.00,114.40 896.00,114.40 898.30,100.40 892.70,100.40" fill="#111"/>
<rect x="878.00" y="68.00" width="36.00" height="24.00" fill="#fff"/>
<text x="895.80" y="86.80" font-size="20" text-anchor="middle" >116</text><rect x="880.25" y="84.90" width="4.64" height="3.10" fill="#fff"/><rect x="886.71" y="84.90" width="4.00" height="3.10" fill="#fff"/><rect x="889.88" y="84.90" width="4.64" height="3.10" fill="#fff"/><rect x="896.34" y="84.90" width="4.00" height="3.10" fill="#fff"/>
<line x1="888.50" y1="114.40" x2="917.60" y2="114.40" stroke="#383838" stroke-width="1.15" />
<line x1="924.00" y1="114.40" x2="958.00" y2="114.40" stroke="#383838" stroke-width="1.15" />
<line x1="895.50" y1="114.40" x2="895.50" y2="379.10" stroke="#383838" stroke-width="1.15" />
<polygon points="896.00,114.40 895.00,114.40 892.70,128.40 898.30,128.40" fill="#111"/>
<polygon points="895.00,379.10 896.00,379.10 898.30,365.10 892.70,365.10" fill="#111"/>
<rect x="877.00" y="235.00" width="37.00" height="24.00" fill="#fff"/>
<text x="894.50" y="253.80" font-size="20" text-anchor="middle" >920</text>
<line x1="888.50" y1="379.10" x2="917.60" y2="379.10" stroke="#383838" stroke-width="1.15" />
<line x1="924.00" y1="379.10" x2="958.00" y2="379.10" stroke="#383838" stroke-width="1.15" />
<path d="M977.4,105.2 L977.4,75 A30,30 0 0 1 1007.4,45 L1164,45 A31.5,31.5 0 0 1 1195.5,76.5 L1195.5,79.5" fill="none" stroke="#222" stroke-width="1.7" />
<path d="M990.9,105.2 L990.9,76.6 A18,18 0 0 1 1008.9,58.6 L1164,58.6 A18.7,18.7 0 0 1 1182.7,77.3 L1182.7,79.5" fill="none" stroke="#222" stroke-width="1.7" />
<path d="M953.7,105.2 L977.4,105.2 Q984,110.5 990.9,105.2 L994.3,105.2 Q995.5,114.8 994.3,124.4 L990.9,124.4 Q984,119 977.4,124.4 L953.7,124.4" fill="none" stroke="#222" stroke-width="1.4" />
<line x1="977.40" y1="124.40" x2="977.40" y2="172.20" stroke="#222" stroke-width="1.7" />
<line x1="990.60" y1="124.40" x2="990.60" y2="172.20" stroke="#222" stroke-width="1.7" />
<path d="M977.4,172.2 Q980,169.5 984,171.5 Q988,173.5 990.6,171.8" fill="none" stroke="#222" stroke-width="1.1" />
<path d="M977.4,180.4 Q980,177.8 984,179.8 Q988,181.8 990.6,180" fill="none" stroke="#222" stroke-width="1.1" />
<line x1="977.40" y1="180.40" x2="977.40" y2="259.60" stroke="#222" stroke-width="1.7" />
<line x1="990.60" y1="180.40" x2="990.60" y2="259.60" stroke="#222" stroke-width="1.7" />
<line x1="977.40" y1="280.90" x2="977.40" y2="364.60" stroke="#222" stroke-width="1.7" />
<line x1="990.60" y1="280.90" x2="990.60" y2="364.60" stroke="#222" stroke-width="1.7" />
<path d="M955.7,259 Q955.7,256.5 958,256.5 L971.5,256.5 Q973.9,256.5 973.9,259 L973.9,280.9 L955.7,280.9 Z" fill="none" stroke="#222" stroke-width="1.7" />
<path d="M973.9,259.6 L977.4,259.6 Q984,265 990.6,259.6 L1022.6,259.6 L1022.6,279.6 L1008,279.6 Q1012.5,276 1017,279.6 L1022.6,279.6" fill="none" stroke="#222" stroke-width="1.7" />
<path d="M973.9,280.9 L977.4,280.9 Q984,275.5 990.6,280.9 L1008,280.9" fill="none" stroke="#222" stroke-width="1.7" />
<line x1="993.90" y1="259.60" x2="993.90" y2="280.90" stroke="#222" stroke-width="1.7" />
<path d="M1005.2,258.3 Q1013.5,265 1022.2,258.3" fill="none" stroke="#222" stroke-width="1.2" />
<circle cx="1013.7" cy="261.2" r="0.9" fill="#111"/>
<path d="M1008.6,280.9 L1008.6,318.5 L1016.7,318.5 L1016.7,279.6" fill="none" stroke="#222" stroke-width="1.7" />
<line x1="1016.70" y1="298.70" x2="1038.70" y2="298.70" stroke="#383838" stroke-width="1.15" />
<text x="1062.60" y="304.70" font-size="20" text-anchor="middle" >1500</text><rect x="1040.75" y="302.80" width="4.64" height="3.10" fill="#fff"/><rect x="1047.21" y="302.80" width="4.00" height="3.10" fill="#fff"/>
<path d="M1013.3,318.5 L1013.6,326 Q1014,334 1024,341 Q1040,354 1042,380 L1042.8,405 Q1043,432 1030,449 Q1020,457 1008,453 Q996,447 994.5,435 L994.2,421.4" fill="none" stroke="#222" stroke-width="1.2" stroke-dasharray="11,3.5,2.5,3.5"/>
<path d="M1005.5,258.3 Q1008.5,215 1019,187.5 Q1017.5,184 1019,180.5 Q1021,177.5 1025,175 L1041.8,148.7 Q1048,138 1051.5,132 Q1053.5,129.8 1055.5,130.5 L1063,133.5 Q1066.5,136 1065.7,142 Q1062,158 1048,180 Q1042,189 1036.5,193.1 Q1031,197 1029.2,200.4 Q1025,225 1022.2,258.3" fill="none" stroke="#222" stroke-width="1.6" />
<path d="M1014,258.3 Q1017,225 1021.9,202.9 Q1025,193 1029.2,184.6 L1052,132.3" fill="none" stroke="#222" stroke-width="1.0" />
<path d="M1019.2,187 Q1022.5,183 1022.2,178.5" fill="none" stroke="#222" stroke-width="1.2" />
<path d="M1059.6,133.5 Q1062,138 1060.8,144.5 Q1055,163 1035.3,189.5" fill="none" stroke="#222" stroke-width="1.0" />
<path d="M1029.2,187 L1036.5,194.3" fill="none" stroke="#222" stroke-width="1.0" />
<path d="M1065,144 Q1059,165 1043,186" stroke="#222" stroke-width="2.8" stroke-dasharray="2,2.2" fill="none"/>
<line x1="1063.00" y1="133.60" x2="1108.20" y2="152.90" stroke="#383838" stroke-width="1.15" />
<line x1="1037.00" y1="194.00" x2="1080.00" y2="213.50" stroke="#383838" stroke-width="1.15" />
<line x1="1061.80" y1="236.50" x2="1073.50" y2="212.70" stroke="#383838" stroke-width="1.15" />
<polygon points="1073.95,212.92 1073.05,212.48 1065.25,223.13 1070.28,225.60" fill="#111"/>
<line x1="1113.30" y1="124.00" x2="1101.00" y2="149.00" stroke="#383838" stroke-width="1.15" />
<polygon points="1100.55,148.78 1101.45,149.22 1109.25,138.57 1104.23,136.10" fill="#111"/>
<text x="1090.80" y="187.70" font-size="20" text-anchor="middle" >110</text><rect x="1075.25" y="185.80" width="4.64" height="3.10" fill="#fff"/><rect x="1081.71" y="185.80" width="4.00" height="3.10" fill="#fff"/><rect x="1084.88" y="185.80" width="4.64" height="3.10" fill="#fff"/><rect x="1091.34" y="185.80" width="4.00" height="3.10" fill="#fff"/>
<rect x="1061.00" y="174.40" width="13.40" height="12.40" rx="0" fill="none" stroke="#111" stroke-width="2.6" />
<line x1="1113.30" y1="107.00" x2="1113.30" y2="187.60" stroke="#383838" stroke-width="1.15" />
<line x1="1263.90" y1="107.00" x2="1263.90" y2="187.60" stroke="#383838" stroke-width="1.15" />
<line x1="1113.30" y1="180.00" x2="1160.60" y2="180.00" stroke="#383838" stroke-width="1.15" />
<polygon points="1113.30,179.50 1113.30,180.50 1127.30,182.80 1127.30,177.20" fill="#111"/>
<line x1="1214.60" y1="180.00" x2="1263.90" y2="180.00" stroke="#383838" stroke-width="1.15" />
<polygon points="1263.90,180.50 1263.90,179.50 1249.90,177.20 1249.90,182.80" fill="#111"/>
<rect x="1164.20" y="173.50" width="13.30" height="12.40" rx="0" fill="none" stroke="#111" stroke-width="2.6" />
<text x="1195.80" y="187.20" font-size="20" text-anchor="middle" >250</text>
<rect x="1182.30" y="75.00" width="13.70" height="4.30" rx="0" fill="none" stroke="#222" stroke-width="1.2" />
<path d="M1177,79.3 L1200,79.3 Q1203.5,79.5 1205.5,84 Q1208,90.5 1214,91 L1258,91.8 Q1263.7,92.5 1263.7,97 L1263.7,103 Q1263.7,106.5 1259,106.5 L1118,106.5 Q1113.6,106.5 1113.6,103 L1113.6,97 Q1113.6,92.5 1119,91.8 L1163,91 Q1169,90.5 1171.5,84 Q1173.5,79.5 1177,79.3 Z" fill="none" stroke="#222" stroke-width="1.7" />
<path d="M1116,93 Q1140,91.5 1188,91.8 Q1236,91.5 1261,93" fill="none" stroke="#222" stroke-width="1.6" />
<line x1="1115.00" y1="94.20" x2="1262.00" y2="94.20" stroke="#555" stroke-width="0.8" />
<line x1="1115.00" y1="105.00" x2="1262.00" y2="105.00" stroke="#333" stroke-width="1.0" />
<rect x="1123.60" y="106.5" width="2.8" height="3" rx="0.8" fill="#222"/>
<rect x="1135.00" y="106.5" width="2.8" height="3" rx="0.8" fill="#222"/>
<rect x="1146.40" y="106.5" width="2.8" height="3" rx="0.8" fill="#222"/>
<rect x="1157.80" y="106.5" width="2.8" height="3" rx="0.8" fill="#222"/>
<rect x="1169.20" y="106.5" width="2.8" height="3" rx="0.8" fill="#222"/>
<rect x="1180.60" y="106.5" width="2.8" height="3" rx="0.8" fill="#222"/>
<rect x="1192.00" y="106.5" width="2.8" height="3" rx="0.8" fill="#222"/>
<rect x="1203.40" y="106.5" width="2.8" height="3" rx="0.8" fill="#222"/>
<rect x="1214.80" y="106.5" width="2.8" height="3" rx="0.8" fill="#222"/>
<rect x="1226.20" y="106.5" width="2.8" height="3" rx="0.8" fill="#222"/>
<rect x="1237.60" y="106.5" width="2.8" height="3" rx="0.8" fill="#222"/>
<rect x="1249.00" y="106.5" width="2.8" height="3" rx="0.8" fill="#222"/>
<line x1="1119.00" y1="107.80" x2="1258.00" y2="107.80" stroke="#888" stroke-width="0.8" />
<line x1="1188.00" y1="79.40" x2="1168.40" y2="154.50" stroke="#383838" stroke-width="1.15" />
<line x1="1188.00" y1="79.40" x2="1208.30" y2="154.50" stroke="#383838" stroke-width="1.15" />
<polyline points="1143.47,133.41 1144.46,134.21 1145.47,135.00 1146.49,135.76 1147.52,136.51 1148.56,137.23 1149.62,137.94 1150.69,138.63 1151.77,139.30 1152.87,139.95 1153.97,140.57 1155.09,141.18 1156.22,141.77 1157.36,142.34 1158.51,142.88 1159.67,143.41 1160.84,143.91 1162.01,144.40 1163.20,144.86 1164.39,145.30 1165.60,145.72 1166.80,146.11 1168.02,146.49 1169.24,146.84 1170.47,147.17" fill="none" stroke="#383838" stroke-width="1.15" />
<polygon points="1170.35,147.65 1170.60,146.69 1157.16,140.73 1155.71,146.35" fill="#111"/>
<polyline points="1232.53,133.41 1231.54,134.21 1230.53,135.00 1229.51,135.76 1228.48,136.51 1227.44,137.23 1226.38,137.94 1225.31,138.63 1224.23,139.30 1223.13,139.95 1222.03,140.57 1220.91,141.18 1219.78,141.77 1218.64,142.34 1217.49,142.88 1216.33,143.41 1215.16,143.91 1213.99,144.40 1212.80,144.86 1211.61,145.30 1210.40,145.72 1209.20,146.11 1207.98,146.49 1206.76,146.84 1205.53,147.17" fill="none" stroke="#383838" stroke-width="1.15" />
<polygon points="1205.40,146.69 1205.65,147.65 1220.29,146.35 1218.84,140.73" fill="#111"/>
<text x="1186.00" y="156.60" font-size="20" text-anchor="middle" >20</text>
<circle cx="1204.1" cy="145.8" r="2.3" fill="none" stroke="#111" stroke-width="1.3"/>
<path d="M953.7,364.6 L977.1,364.6 Q984,368.5 990.7,364.6 L1012.8,364.6 L1012.8,392.9 L953.7,392.9" fill="none" stroke="#222" stroke-width="1.7" />
<line x1="953.70" y1="390.60" x2="1012.80" y2="390.60" stroke="#222" stroke-width="1.0" />
<path d="M1012.8,392.9 L1012.8,364.6 Q1012.8,362.4 1015,362.4 L1026,362.4 Q1028.6,362.4 1028.6,365 L1028.6,392.9 Z" fill="none" stroke="#222" stroke-width="1.7" />
<line x1="1013.00" y1="365.00" x2="1028.40" y2="365.00" stroke="#222" stroke-width="0.9" />
<defs><pattern id="knurl" width="3" height="3" patternUnits="userSpaceOnUse"><rect width="3" height="3" fill="#222"/><circle cx="1.5" cy="1.5" r="0.95" fill="#fff"/></pattern></defs>
<path d="M967.3,396 Q967.3,392.9 970,392.9 L978.5,392.9 Q981.1,392.9 981.1,396 L980.5,410.5 Q980,412.7 978,412.7 L970,412.7 Q968,412.7 967.7,410.5 Z" fill="url(#knurl)" stroke="#222" stroke-width="1.5" />
<path d="M987,395.5 Q987,392.9 989.5,392.9 L998,392.9 Q1000.7,392.9 1000.7,395.5 L1000.7,399.5 Q1000.7,401.4 998.5,401.4 L989,401.4 Q987,401.4 987,399.5 Z" fill="url(#knurl)" stroke="#222" stroke-width="1.5" />
<path d="M969.2,412.7 L969.2,422.3 L978.3,422.3 L978.3,412.7" fill="none" stroke="#222" stroke-width="1.3" />
<path d="M969.2,424.5 L969.2,450.7 M978.3,424.5 L978.3,450.7" fill="none" stroke="#222" stroke-width="1.3" />
<path d="M969.2,424.5 Q973,423 978.3,424.5" fill="none" stroke="#222" stroke-width="1.0" />
<line x1="969.20" y1="439.00" x2="978.30" y2="439.00" stroke="#222" stroke-width="1.0" />
<path d="M967,452 Q967,450.7 969,450.7 L979.5,450.7 Q981.4,450.7 981.4,452 L981.4,457 Q981.4,458.2 979.5,458.2 L969,458.2 Q967,458.2 967,457 Z" fill="url(#knurl)" stroke="#222" stroke-width="1.3" />
<line x1="967.30" y1="458.20" x2="967.30" y2="488.30" stroke="#383838" stroke-width="1.0" />
<line x1="979.90" y1="458.20" x2="979.90" y2="488.30" stroke="#383838" stroke-width="1.0" />
<line x1="938.20" y1="481.10" x2="967.30" y2="481.10" stroke="#383838" stroke-width="1.15" />
<polygon points="967.30,481.60 967.30,480.60 953.30,478.30 953.30,483.90" fill="#111"/>
<line x1="1034.00" y1="481.10" x2="979.90" y2="481.10" stroke="#383838" stroke-width="1.15" />
<polygon points="979.90,480.60 979.90,481.60 993.90,483.90 993.90,478.30" fill="#111"/>
<text x="994.5" y="478.5" font-size="20">G</text>
<text x="1014.2" y="468.5" font-size="12.5">1</text><rect x="1014.45" y="467.31" width="2.90" height="1.94" fill="#fff"/><rect x="1018.49" y="467.31" width="2.50" height="1.94" fill="#fff"/>
<text x="1020.7" y="478.5" font-size="19" style="stroke-width:0">/</text>
<text x="1026.1" y="478.5" font-size="12.5">2</text>
<path d="M989.6,401.4 L989.6,421.4 L998.9,421.4 L998.9,401.4" fill="none" stroke="#222" stroke-width="1.3" />
<line x1="989.60" y1="412.70" x2="998.90" y2="412.70" stroke="#222" stroke-width="1.0" />
<line x1="948.50" y1="435.40" x2="969.20" y2="435.40" stroke="#383838" stroke-width="1.15" />
<text x="930.70" y="442.00" font-size="20" text-anchor="middle" >500</text>
</svg></body></html>
